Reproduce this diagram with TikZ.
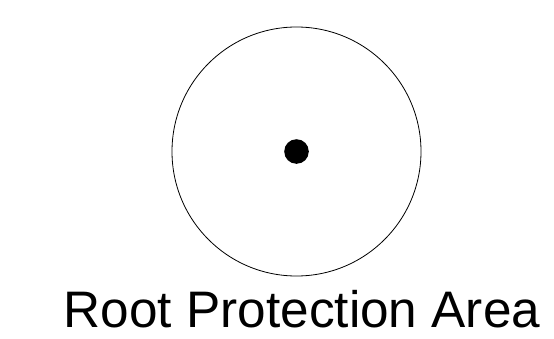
\documentclass[tikz,border=0pt]{standalone}
\usepackage{fontspec}
\setmainfont{Liberation Sans}
\begin{document}
\begin{tikzpicture}[x=0.75pt, y=-0.75pt]

    % Define the colours
    \definecolor{borderColour}{HTML}{000000}

    % Fix the page size
    \useasboundingbox (0,0) rectangle (554,339);

    % Centre of the tree
    \coordinate (stem) at (296.5,151.5);

    % Draw the root protection area and the stem
    \draw[draw=borderColour, line width=0.6pt] (stem) circle [radius=124.5];
    \fill[borderColour] (stem) circle [radius=12.3];

    % Label
    \node[anchor=base, inner sep=0pt] (label) at (302,327)
        {\fontsize{38.5}{44}\selectfont Root Protection Area};

\end{tikzpicture}
\end{document}
